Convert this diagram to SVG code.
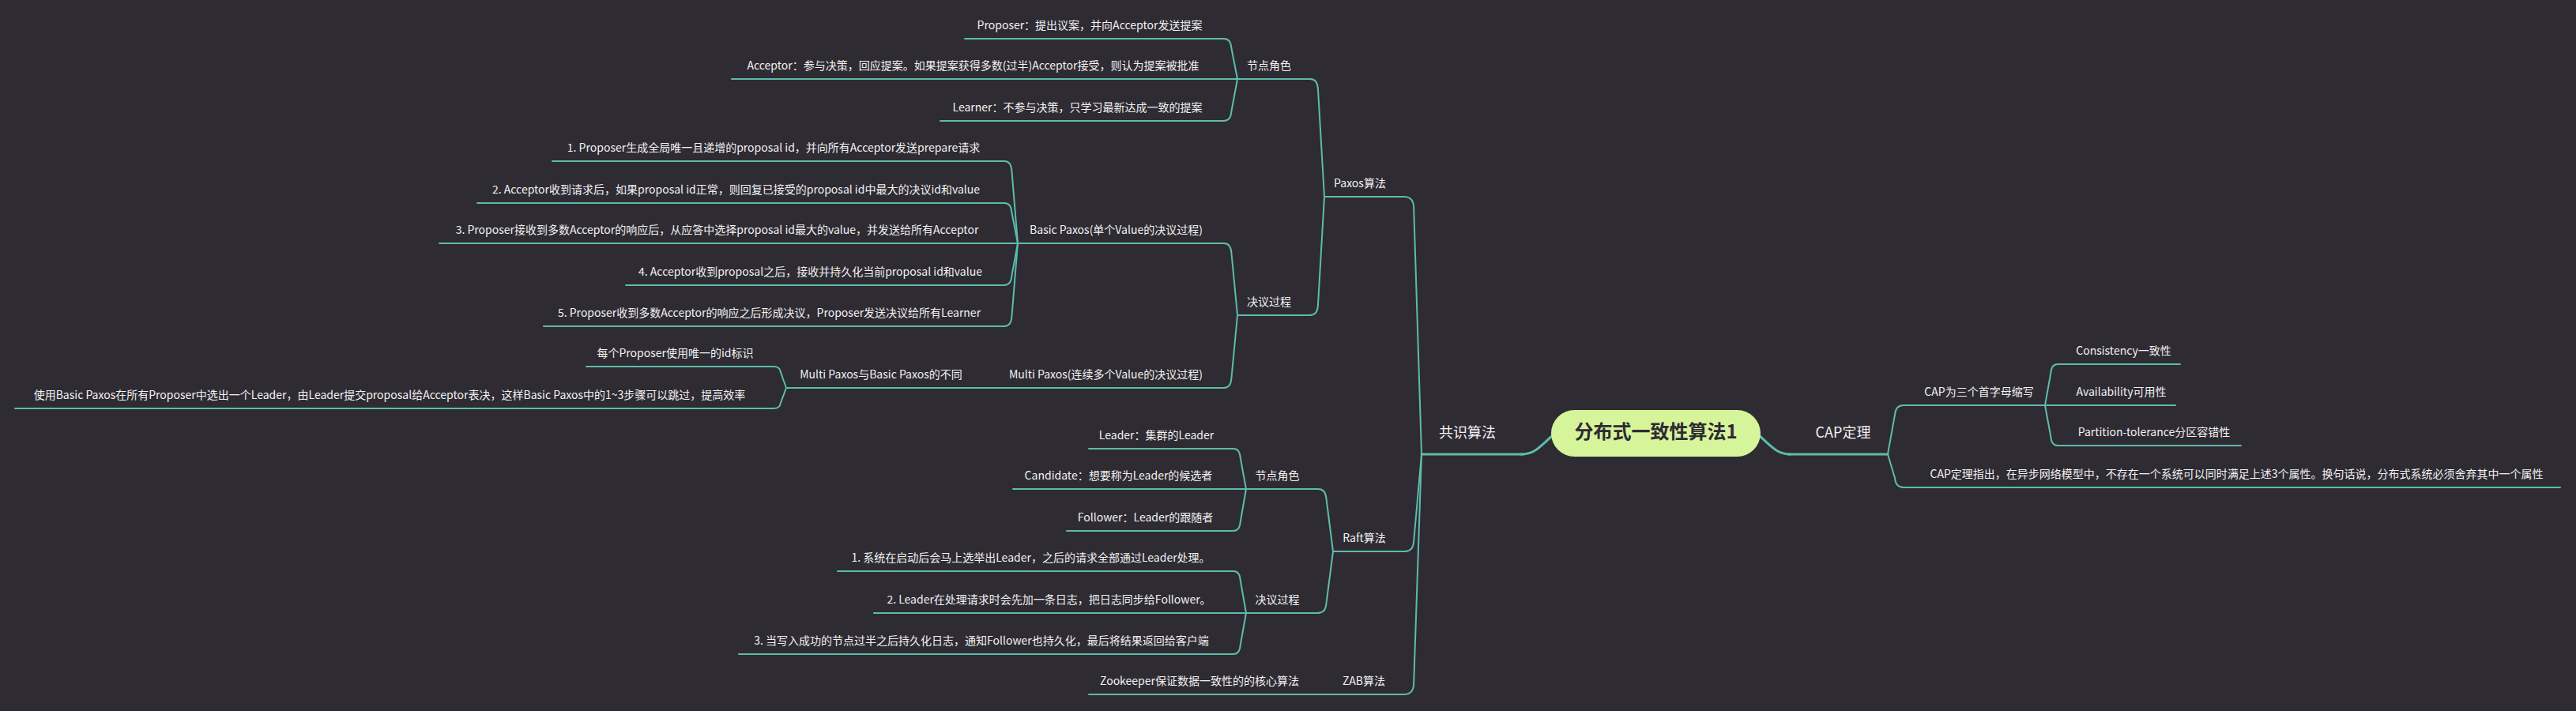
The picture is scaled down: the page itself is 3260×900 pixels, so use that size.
<svg xmlns="http://www.w3.org/2000/svg" width="3260" height="900" viewBox="0 0 3260 900">
<style>
.bg{fill:#2e2b33}
.ln{fill:none;stroke:#5dbcaa;stroke-width:2;stroke-linecap:round;stroke-linejoin:round}
.ln1{fill:none;stroke:#5dbcaa;stroke-width:3;stroke-linecap:round}
.t{font-family:"Noto Sans CJK SC","Noto Sans",sans-serif;font-size:14px;fill:#f2f2f2;text-anchor:middle}
.t1{font-family:"Noto Sans CJK SC","Noto Sans",sans-serif;font-size:18px;fill:#f2f2f2;text-anchor:middle}
.tc{font-family:"Noto Sans CJK SC","Noto Sans",sans-serif;font-size:24px;font-weight:bold;fill:#2e2b33;text-anchor:middle}
</style>
<rect class="bg" x="0" y="0" width="3260" height="900"/>
<g id="connectors">
<path class="ln1" d="M1925 575 C1942 575 1948 566 1964 552"/>
<path class="ln1" d="M2227 552 C2243 566 2249 575 2266 575"/>
<path class="ln" d="M1549 49 Q1557.5 49 1558.4 61 L1566 100"/>
<path class="ln" d="M1549 100 L1566 100"/>
<path class="ln" d="M1549 153 Q1557.5 153 1558.4 141 L1566 100"/>
<path class="ln" d="M1271 204 Q1279.5 204 1280.4 216 L1288 308"/>
<path class="ln" d="M1271 257 Q1279.5 257 1280.4 269 L1288 308"/>
<path class="ln" d="M1271 308 L1288 308"/>
<path class="ln" d="M1271 361 Q1279.5 361 1280.4 349 L1288 308"/>
<path class="ln" d="M1271 413 Q1279.5 413 1280.4 401 L1288 308"/>
<path class="ln" d="M1549 308 Q1557.5 308 1558.4 320 L1566 399"/>
<path class="ln" d="M1549 491 Q1557.5 491 1558.4 479 L1566 399"/>
<path class="ln" d="M1247 491 L1262 491"/>
<path class="ln" d="M979 464 Q987 464 987.8 470.75 L995 491"/>
<path class="ln" d="M979 517 Q987 517 987.8 510.25 L995 491"/>
<path class="ln" d="M1658 100 Q1667 100 1667.9 112 L1676 249"/>
<path class="ln" d="M1658 399 Q1667 399 1667.9 387 L1676 249"/>
<path class="ln" d="M1777 249 Q1788 249 1789.1 261 L1799 575"/>
<path class="ln" d="M1778 698 Q1788 698 1789.1 686 L1799 575"/>
<path class="ln" d="M1777 879 Q1788 879 1789.1 867 L1799 575"/>
<path class="ln" d="M1668 619 Q1677.5 619 1678.45 631 L1687 698"/>
<path class="ln" d="M1668 776 Q1677.5 776 1678.45 764 L1687 698"/>
<path class="ln" d="M1561 568 Q1569 568 1569.8 580 L1577 619"/>
<path class="ln" d="M1561 619 L1577 619"/>
<path class="ln" d="M1561 672 Q1569 672 1569.8 660 L1577 619"/>
<path class="ln" d="M1561 723 Q1569 723 1569.8 735 L1577 776"/>
<path class="ln" d="M1561 776 L1577 776"/>
<path class="ln" d="M1561 828 Q1569 828 1569.8 816 L1577 776"/>
<path class="ln" d="M1670 879 L1687 879"/>
<path class="ln" d="M2409 513 Q2399 513 2398 525 L2389 575"/>
<path class="ln" d="M2409 617 Q2399 617 2398 605 L2389 575"/>
<path class="ln" d="M2604 461 Q2596 461 2595.2 473 L2588 513"/>
<path class="ln" d="M2604 513 L2588 513"/>
<path class="ln" d="M2604 564 Q2596 564 2595.2 552 L2588 513"/>
</g>
<g id="root"><rect x="1963" y="519" width="265" height="59" rx="29.5" fill="#d6f49a"/><text class="tc" x="2095.5" y="555">分布式一致性算法1</text></g>
<g id="n-gongshi"><path class="ln1" d="M1799 575 H1927"/><text class="t1" x="1857" y="554">共识算法</text></g>
<g id="n-cap"><path class="ln1" d="M2264 575 H2389"/><text class="t1" x="2332.5" y="554">CAP定理</text></g>
<g id="n-paxos"><path class="ln" d="M1676 249 H1777"/><text class="t" x="1721" y="237">Paxos算法</text></g>
<g id="n-raft"><path class="ln" d="M1687 698 H1778"/><text class="t" x="1726.5" y="686">Raft算法</text></g>
<g id="n-zab"><path class="ln" d="M1687 879 H1777"/><text class="t" x="1726" y="867">ZAB算法</text></g>
<g id="n-paxos-role"><path class="ln" d="M1566 100 H1658"/><text class="t" x="1606" y="88">节点角色</text></g>
<g id="n-paxos-proc"><path class="ln" d="M1566 399 H1658"/><text class="t" x="1606" y="387">决议过程</text></g>
<g id="n-proposer"><path class="ln" d="M1221 49 H1549"/><text class="t" x="1379" y="37">Proposer：提出议案，并向Acceptor发送提案</text></g>
<g id="n-acceptor"><path class="ln" d="M926 100 H1549"/><text class="t" x="1231.5" y="88">Acceptor：参与决策，回应提案。如果提案获得多数(过半)Acceptor接受，则认为提案被批准</text></g>
<g id="n-learner"><path class="ln" d="M1190 153 H1549"/><text class="t" x="1363.5" y="141">Learner：不参与决策，只学习最新达成一致的提案</text></g>
<g id="n-basic"><path class="ln" d="M1288 308 H1549"/><text class="t" x="1412.5" y="296">Basic Paxos(单个Value的决议过程)</text></g>
<g id="n-bp1"><path class="ln" d="M699 204 H1271"/><text class="t" x="979" y="192">1. Proposer生成全局唯一且递增的proposal id，并向所有Acceptor发送prepare请求</text></g>
<g id="n-bp2"><path class="ln" d="M604 257 H1271"/><text class="t" x="931.5" y="245">2. Acceptor收到请求后，如果proposal id正常，则回复已接受的proposal id中最大的决议id和value</text></g>
<g id="n-bp3"><path class="ln" d="M556 308 H1271"/><text class="t" x="907.5" y="296">3. Proposer接收到多数Acceptor的响应后，从应答中选择proposal id最大的value，并发送给所有Acceptor</text></g>
<g id="n-bp4"><path class="ln" d="M792 361 H1271"/><text class="t" x="1025.5" y="349">4. Acceptor收到proposal之后，接收并持久化当前proposal id和value</text></g>
<g id="n-bp5"><path class="ln" d="M688 413 H1271"/><text class="t" x="973.5" y="401">5. Proposer收到多数Acceptor的响应之后形成决议，Proposer发送决议给所有Learner</text></g>
<g id="n-multi"><path class="ln" d="M1262 491 H1549"/><text class="t" x="1399.5" y="479">Multi Paxos(连续多个Value的决议过程)</text></g>
<g id="n-diff"><path class="ln" d="M995 491 H1247"/><text class="t" x="1115" y="479">Multi Paxos与Basic Paxos的不同</text></g>
<g id="n-diff1"><path class="ln" d="M742 464 H979"/><text class="t" x="854.5" y="452">每个Proposer使用唯一的id标识</text></g>
<g id="n-diff2"><path class="ln" d="M19 517 H979"/><text class="t" x="493" y="505">使用Basic Paxos在所有Proposer中选出一个Leader，由Leader提交proposal给Acceptor表决，这样Basic Paxos中的1~3步骤可以跳过，提高效率</text></g>
<g id="n-raft-role"><path class="ln" d="M1577 619 H1668"/><text class="t" x="1616.5" y="607">节点角色</text></g>
<g id="n-raft-proc"><path class="ln" d="M1577 776 H1668"/><text class="t" x="1616.5" y="764">决议过程</text></g>
<g id="n-leader"><path class="ln" d="M1378 568 H1561"/><text class="t" x="1463.5" y="556">Leader：集群的Leader</text></g>
<g id="n-candidate"><path class="ln" d="M1282 619 H1561"/><text class="t" x="1415.5" y="607">Candidate：想要称为Leader的候选者</text></g>
<g id="n-follower"><path class="ln" d="M1350 672 H1561"/><text class="t" x="1449.5" y="660">Follower：Leader的跟随者</text></g>
<g id="n-r1"><path class="ln" d="M1060 723 H1561"/><text class="t" x="1304.5" y="711">1. 系统在启动后会马上选举出Leader，之后的请求全部通过Leader处理。</text></g>
<g id="n-r2"><path class="ln" d="M1106 776 H1561"/><text class="t" x="1327.5" y="764">2. Leader在处理请求时会先加一条日志，把日志同步给Follower。</text></g>
<g id="n-r3"><path class="ln" d="M935 828 H1561"/><text class="t" x="1242" y="816">3. 当写入成功的节点过半之后持久化日志，通知Follower也持久化，最后将结果返回给客户端</text></g>
<g id="n-zk"><path class="ln" d="M1378 879 H1670"/><text class="t" x="1518" y="867">Zookeeper保证数据一致性的的核心算法</text></g>
<g id="n-cap3"><path class="ln" d="M2409 513 H2588"/><text class="t" x="2504.5" y="501">CAP为三个首字母缩写</text></g>
<g id="n-capdef"><path class="ln" d="M2409 617 H3240"/><text class="t" x="2830.5" y="605">CAP定理指出，在异步网络模型中，不存在一个系统可以同时满足上述3个属性。换句话说，分布式系统必须舍弃其中一个属性</text></g>
<g id="n-c"><path class="ln" d="M2604 461 H2759"/><text class="t" x="2687.5" y="449">Consistency一致性</text></g>
<g id="n-a"><path class="ln" d="M2604 513 H2753"/><text class="t" x="2684.5" y="501">Availability可用性</text></g>
<g id="n-p"><path class="ln" d="M2604 564 H2836"/><text class="t" x="2726" y="552">Partition-tolerance分区容错性</text></g>
</svg>
